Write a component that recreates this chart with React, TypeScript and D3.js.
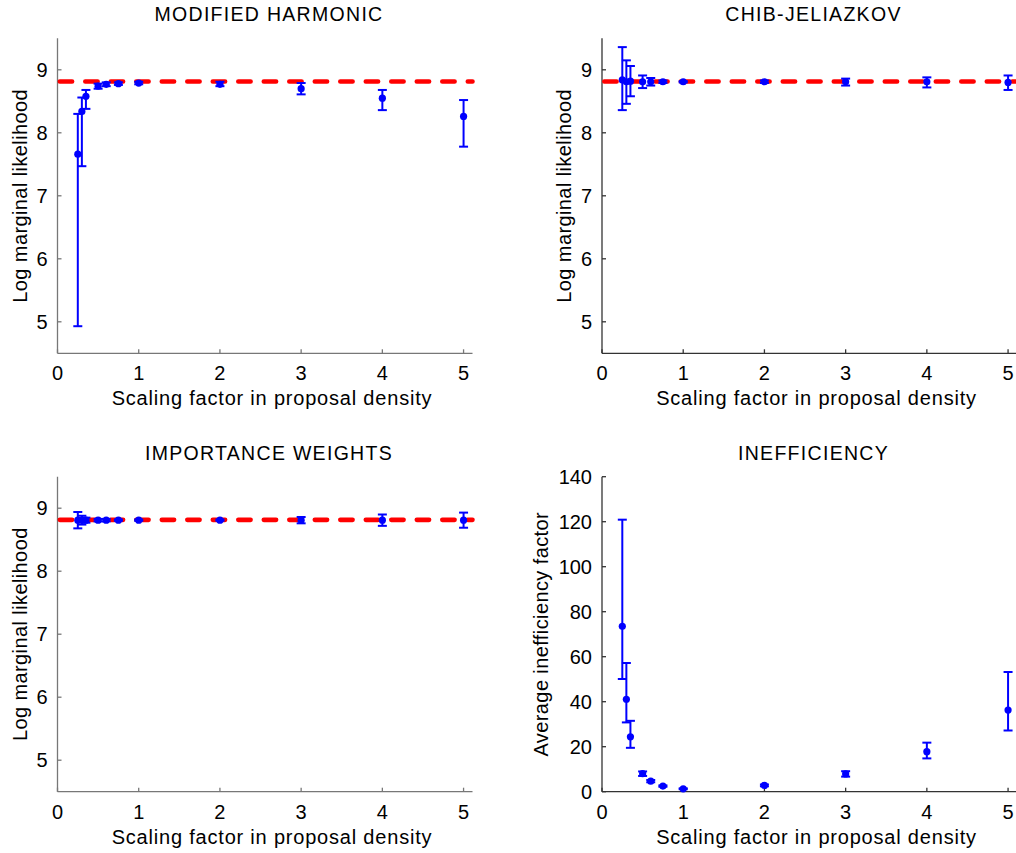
import React from "react";
import * as d3 from "d3";

const xs = [0.25, 0.3, 0.35, 0.5, 0.6, 0.75, 1, 2, 3, 4, 5];
const xTicks = [0, 1, 2, 3, 4, 5];
const logTicks = [5, 6, 7, 8, 9];
const ineffTicks = [0, 20, 40, 60, 80, 100, 120, 140];
const trueValue = 8.815;

// MODIFIED HARMONIC
const mhMean = [7.66, 8.34, 8.58, 8.74, 8.77, 8.78, 8.79, 8.77, 8.70, 8.55, 8.26];
const mhLow = [4.93, 7.47, 8.38, 8.70, 8.74, 8.76, 8.77, 8.74, 8.61, 8.36, 7.78];
const mhHigh = [8.30, 8.56, 8.68, 8.78, 8.80, 8.80, 8.81, 8.81, 8.79, 8.68, 8.52];

// CHIB-JELIAZKOV
const cjMean = [8.84, 8.81, 8.82, 8.81, 8.81, 8.81, 8.81, 8.81, 8.81, 8.81, 8.80];
const cjLow = [8.36, 8.46, 8.58, 8.71, 8.75, 8.79, 8.80, 8.79, 8.75, 8.72, 8.68];
const cjHigh = [9.36, 9.15, 9.06, 8.91, 8.87, 8.83, 8.82, 8.83, 8.86, 8.88, 8.91];

// IMPORTANCE WEIGHTS
const iwMean = [8.81, 8.81, 8.81, 8.81, 8.81, 8.81, 8.81, 8.81, 8.81, 8.81, 8.81];
const iwLow = [8.68, 8.74, 8.77, 8.79, 8.79, 8.80, 8.80, 8.80, 8.76, 8.72, 8.69];
const iwHigh = [8.94, 8.88, 8.85, 8.83, 8.83, 8.82, 8.82, 8.82, 8.86, 8.90, 8.93];

// INEFFICIENCY
const ifMean = [73.5, 41.1, 24.4, 8.0, 4.7, 2.5, 1.3, 2.8, 7.9, 17.8, 36.3];
const ifLow = [50.1, 30.8, 19.5, 7.0, 4.2, 2.2, 1.1, 2.4, 6.7, 14.8, 27.2];
const ifHigh = [120.9, 57.2, 31.5, 9.0, 5.2, 2.8, 1.5, 3.2, 9.1, 21.8, 53.2];

const FONT = "'Liberation Sans', Arial, Helvetica, sans-serif";
const BLUE = "#0000ff";

type PanelProps = {
  x0: number;
  y0: number;
  title: string;
  yLabel: string;
  yLabelOffset: number;
  yDomain: [number, number];
  yTicks: number[];
  mean: number[];
  low: number[];
  high: number[];
  refLine?: number;
  axisColor: string;
};

function Panel(p: PanelProps) {
  const W = 415;
  const H = 315;
  const x = d3.scaleLinear().domain([0, 5.11]).range([p.x0, p.x0 + W]);
  const y = d3.scaleLinear().domain(p.yDomain).range([p.y0 + H, p.y0]);
  const bottom = p.y0 + H;
  const cap = 4.5;
  const cx = p.x0 + W / 2;
  const line = d3.line<number>().x((d) => d[0] as any).y((d) => d[1] as any);
  return (
    <g>
      <text
        x={cx + 4}
        y={p.y0 - 17}
        textAnchor="middle"
        fontSize={19.5}
        letterSpacing={1.3}
        fontFamily={FONT}
        fill="#000"
      >
        {p.title}
      </text>
      {/* axes */}
      <line x1={p.x0} x2={p.x0} y1={p.y0} y2={bottom} stroke={p.axisColor} strokeWidth={1.3} />
      <line x1={p.x0} x2={p.x0 + W} y1={bottom} y2={bottom} stroke={p.axisColor} strokeWidth={1.3} />
      {xTicks.map((t) => (
        <g key={"xt" + t}>
          <line x1={x(t)} x2={x(t)} y1={bottom} y2={bottom - 4} stroke={p.axisColor} strokeWidth={1.3} />
          <text x={x(t)} y={bottom + 27} textAnchor="middle" fontSize={20} fontFamily={FONT} fill="#000">
            {t}
          </text>
        </g>
      ))}
      {p.yTicks.map((t) => (
        <g key={"yt" + t}>
          <line x1={p.x0} x2={p.x0 + 4} y1={y(t)} y2={y(t)} stroke={p.axisColor} strokeWidth={1.3} />
          <text
            x={p.x0 - 10}
            y={y(t)}
            dy="0.36em"
            textAnchor="end"
            fontSize={20}
            fontFamily={FONT}
            fill="#000"
          >
            {t}
          </text>
        </g>
      ))}
      <text
        x={cx + 7}
        y={bottom + 52}
        textAnchor="middle"
        fontSize={20}
        letterSpacing={0.8}
        fontFamily={FONT}
        fill="#000"
      >
        Scaling factor in proposal density
      </text>
      <text
        transform={`translate(${p.x0 - p.yLabelOffset},${p.y0 + H / 2}) rotate(-90)`}
        textAnchor="middle"
        fontSize={20}
        letterSpacing={0.4}
        fontFamily={FONT}
        fill="#000"
      >
        {p.yLabel}
      </text>
      {p.refLine !== undefined && (
        <path
          d={line([
            [p.x0 + 2.3, y(p.refLine)],
            [p.x0 + W, y(p.refLine)],
          ] as any) || ""}
          stroke="#ff0000"
          strokeWidth={4.6}
          strokeDasharray="12.3 13.2"
          strokeLinecap="round"
          fill="none"
        />
      )}
      {xs.map((xv, i) => (
        <g key={"e" + i}>
          <line x1={x(xv)} x2={x(xv)} y1={y(p.low[i])} y2={y(p.high[i])} stroke={BLUE} strokeWidth={2} />
          <line x1={x(xv) - cap} x2={x(xv) + cap} y1={y(p.low[i])} y2={y(p.low[i])} stroke={BLUE} strokeWidth={2} />
          <line x1={x(xv) - cap} x2={x(xv) + cap} y1={y(p.high[i])} y2={y(p.high[i])} stroke={BLUE} strokeWidth={2} />
          <circle cx={x(xv)} cy={y(p.mean[i])} r={3.6} fill={BLUE} />
        </g>
      ))}
    </g>
  );
}

export default function App() {
  return (
    <svg
      width={1016}
      height={853}
      style={{ position: "absolute", left: 0, top: 0, background: "#fff" }}
    >
      <rect x={0} y={0} width={1016} height={853} fill="#fff" />
      <Panel
        x0={57.5}
        y0={38.3}
        title="MODIFIED HARMONIC"
        yLabel="Log marginal likelihood"
        yLabelOffset={31}
        yDomain={[4.5, 9.5]}
        yTicks={logTicks}
        mean={mhMean}
        low={mhLow}
        high={mhHigh}
        refLine={trueValue}
        axisColor="#777"
      />
      <Panel
        x0={602}
        y0={38.3}
        title="CHIB-JELIAZKOV"
        yLabel="Log marginal likelihood"
        yLabelOffset={31}
        yDomain={[4.5, 9.5]}
        yTicks={logTicks}
        mean={cjMean}
        low={cjLow}
        high={cjHigh}
        refLine={trueValue}
        axisColor="#333"
      />
      <Panel
        x0={57.5}
        y0={476.7}
        title="IMPORTANCE WEIGHTS"
        yLabel="Log marginal likelihood"
        yLabelOffset={31}
        yDomain={[4.5, 9.5]}
        yTicks={logTicks}
        mean={iwMean}
        low={iwLow}
        high={iwHigh}
        refLine={trueValue}
        axisColor="#777"
      />
      <Panel
        x0={602}
        y0={476.7}
        title="INEFFICIENCY"
        yLabel="Average inefficiency factor"
        yLabelOffset={54}
        yDomain={[0, 140]}
        yTicks={ineffTicks}
        mean={ifMean}
        low={ifLow}
        high={ifHigh}
        axisColor="#333"
      />
    </svg>
  );
}
